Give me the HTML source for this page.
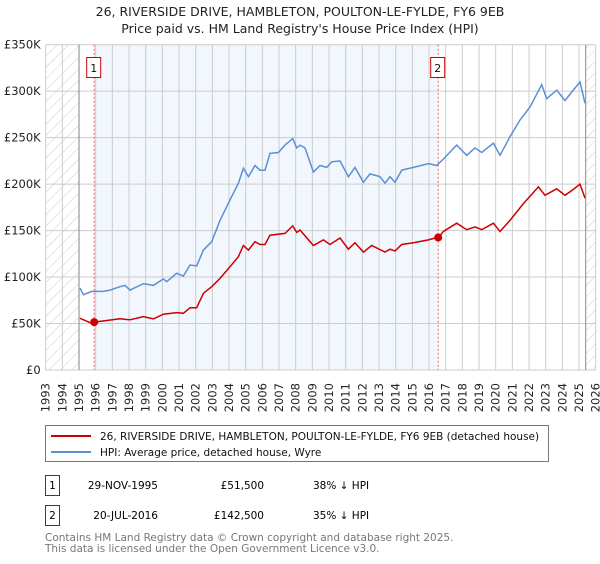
<!DOCTYPE html>
<html><head><meta charset="utf-8"><style>
body{margin:0;background:#fff;font-family:"DejaVu Sans","Liberation Sans",sans-serif;}
svg text{font-family:"DejaVu Sans","Liberation Sans",sans-serif;}
</style></head><body>
<svg id="c" width="600" height="560" xmlns="http://www.w3.org/2000/svg">
<defs><pattern id="hatch" width="8" height="8" patternUnits="userSpaceOnUse" patternTransform="rotate(45)"><line x1="0" y1="0" x2="0" y2="8" stroke="#ccc" stroke-width="1"/></pattern></defs>
<text x="300" y="16" text-anchor="middle" font-size="12.5" fill="#222">26, RIVERSIDE DRIVE, HAMBLETON, POULTON-LE-FYLDE, FY6 9EB</text>
<text x="300" y="33" text-anchor="middle" font-size="12.5" fill="#222">Price paid vs. HM Land Registry's House Price Index (HPI)</text>
<g id="plot"></g>
<rect x="45.5" y="425.5" width="503" height="36" fill="#fff" stroke="#777"/>
<line x1="51" y1="436" x2="91" y2="436" stroke="#cc0000" stroke-width="2"/>
<text x="100" y="440" font-size="10.5" fill="#111">26, RIVERSIDE DRIVE, HAMBLETON, POULTON-LE-FYLDE, FY6 9EB (detached house)</text>
<line x1="51" y1="452" x2="91" y2="452" stroke="#5b8fd6" stroke-width="2"/>
<text x="100" y="456" font-size="10.5" fill="#111">HPI: Average price, detached house, Wyre</text>
<g>
<rect x="45.5" y="475.5" width="14" height="20" fill="#fff" stroke="#cc0000"/>
<text x="52.5" y="489" font-size="10.5" text-anchor="middle">1</text>
<text x="158" y="489" font-size="10.5" text-anchor="end">29-NOV-1995</text>
<text x="264" y="489" font-size="10.5" text-anchor="end">£51,500</text>
<text x="313" y="489" font-size="10.5">38% ↓ HPI</text></g>
<g>
<rect x="45.5" y="505.5" width="14" height="20" fill="#fff" stroke="#cc0000"/>
<text x="52.5" y="519" font-size="10.5" text-anchor="middle">2</text>
<text x="158" y="519" font-size="10.5" text-anchor="end">20-JUL-2016</text>
<text x="264" y="519" font-size="10.5" text-anchor="end">£142,500</text>
<text x="313" y="519" font-size="10.5">35% ↓ HPI</text></g>
<text x="45" y="541" font-size="10.5" fill="#777">Contains HM Land Registry data © Crown copyright and database right 2025.</text>
<text x="45" y="552" font-size="10.5" fill="#777">This data is licensed under the Open Government Licence v3.0.</text>
</svg>
<script>
const hpiYears=[1995.06,1995.26,1995.76,1996.46,1996.86,1997.46,1997.76,1998.06,1998.86,1999.46,2000.06,2000.26,2000.86,2001.26,2001.66,2002.06,2002.46,2002.96,2003.46,2004.06,2004.56,2004.86,2005.16,2005.56,2005.86,2006.16,2006.46,2006.96,2007.36,2007.82,2008.06,2008.26,2008.56,2009.06,2009.46,2009.86,2010.16,2010.66,2011.16,2011.56,2012.06,2012.46,2013.06,2013.36,2013.66,2013.96,2014.36,2015.06,2015.96,2016.46,2016.86,2017.66,2018.26,2018.76,2019.16,2019.86,2020.26,2020.86,2021.46,2022.06,2022.76,2023.06,2023.66,2024.16,2024.56,2025.06,2025.36];
const hpiValues=[88,81,84.6,84.6,86,89.6,91,86,93,91,98,95,104,101,113,112,129,138,161,183,201,217,208,220,215,215,233,234,242,249,239,242,239,213,220,218,224,225,208,218,202,211,208,201,208,202,215,218,222,220,227,242,231,239,234,244,231,251,269,283,307,292,301,290,299,310,287];
const propYears=[1995.06,1995.76,1995.91,1997.46,1998.06,1998.86,1999.46,2000.06,2000.86,2001.26,2001.66,2002.06,2002.46,2002.96,2003.46,2004.06,2004.56,2004.86,2005.16,2005.56,2005.86,2006.16,2006.46,2007.36,2007.82,2008.06,2008.26,2009.06,2009.66,2010.06,2010.66,2011.16,2011.56,2012.06,2012.56,2013.36,2013.66,2013.96,2014.36,2015.06,2015.96,2016.36,2016.55,2016.86,2017.66,2018.26,2018.76,2019.16,2019.86,2020.26,2020.86,2021.66,2022.56,2022.96,2023.66,2024.16,2024.56,2025.06,2025.36];
const propValues=[55.6,50.2,51.5,55.2,54,57.4,55,60,61.8,61,67,67,82.5,89.6,98.6,111,122,134,129,138,135,135,145,147,155,148,150.6,134,140,135,142,130,137,126.8,134,127,130,128,135,137,140,142,142.5,149,158,151,154,151,158,149,161,179,197,188,195,188,193,200,185];
const saleYears=[1995.91,2016.55];
const saleValues=[51.5,142.5];
const yTicks=[0,50,100,150,200,250,300,350];
const yLabels=["£0","£50K","£100K","£150K","£200K","£250K","£300K","£350K"];
const years=[1993,1994,1995,1996,1997,1998,1999,2000,2001,2002,2003,2004,2005,2006,2007,2008,2009,2010,2011,2012,2013,2014,2015,2016,2017,2018,2019,2020,2021,2022,2023,2024,2025,2026];
const X0=45.7,X1=595.7,Y0=370,Y1=44.7;
const xs=y=>X0+(y-1993)/33*(X1-X0);
const ys=v=>Y0-v/350*(Y0-Y1);
const NS="http://www.w3.org/2000/svg";
const g=document.getElementById('plot');
function mk(t,a){const e=document.createElementNS(NS,t);for(const k in a)e.setAttribute(k,a[k]);g.appendChild(e);return e;}
let e;
e=mk('rect',{x:X0,y:Y1,width:X1-X0,height:Y0-Y1,fill:'#fff'});


e=mk('rect',{x:xs(saleYears[0]),y:Y1,width:xs(saleYears[1])-xs(saleYears[0]),height:Y0-Y1,fill:'#f2f6fd'});


e=mk('rect',{x:X0,y:Y1,width:xs(1995)-X0,height:Y0-Y1,fill:'url(#hatch)'});


e=mk('rect',{x:xs(2025.4),y:Y1,width:X1-xs(2025.4),height:Y0-Y1,fill:'url(#hatch)'});


years.forEach(y=>{const x=xs(y);
 e=mk('line',{x1:x,x2:x,y1:Y1,y2:Y0,stroke:'#ccc','stroke-width':1});
 
 
 e=mk('text',{x:0,y:0,'font-size':11.5,fill:'#222','text-anchor':'end',transform:`translate(${x+4},${Y0+13}) rotate(-90)`});
 e.textContent=y;
 
 
});
yTicks.forEach((v,i)=>{const y=ys(v);
 e=mk('line',{x1:X0,x2:X1,y1:y,y2:y,stroke:'#ccc','stroke-width':1});
 
 
 e=mk('text',{x:X0-5,y:y+4,'font-size':11.5,fill:'#222','text-anchor':'end'});
 e.textContent=yLabels[i];
 
 
});
[1995,2025.4].forEach(y=>{e=mk('line',{x1:xs(y),x2:xs(y),y1:Y1,y2:Y0,stroke:'#888','stroke-width':1});
 
 });
saleYears.forEach((y,i)=>{const x=xs(y);
 e=mk('line',{x1:x,x2:x,y1:Y1,y2:Y0,stroke:'#f06060','stroke-width':1,'stroke-dasharray':'2,2'});
 
 
 e=mk('rect',{x:x-7.5,y:57.5,width:14,height:20,fill:'#fff',stroke:'#cc0000'});
 
 
 e=mk('text',{x:x-0.5,y:72,'font-size':11,fill:'#111','text-anchor':'middle'});
 e.textContent=String(i+1);
 
 
});
function pts(a,b){return a.map((y,i)=>xs(y).toFixed(1)+','+ys(b[i]).toFixed(1)).join(' ');}
e=mk('polyline',{points:pts(hpiYears,hpiValues),fill:'none',stroke:'#5b8fd6','stroke-width':1.5});


e=mk('polyline',{points:pts(propYears,propValues),fill:'none',stroke:'#cc0000','stroke-width':1.5});


saleYears.forEach((y,i)=>{e=mk('circle',{cx:xs(y),cy:ys(saleValues[i]),r:4,fill:'#cc0000'});
 
 });
</script>
</body></html>
